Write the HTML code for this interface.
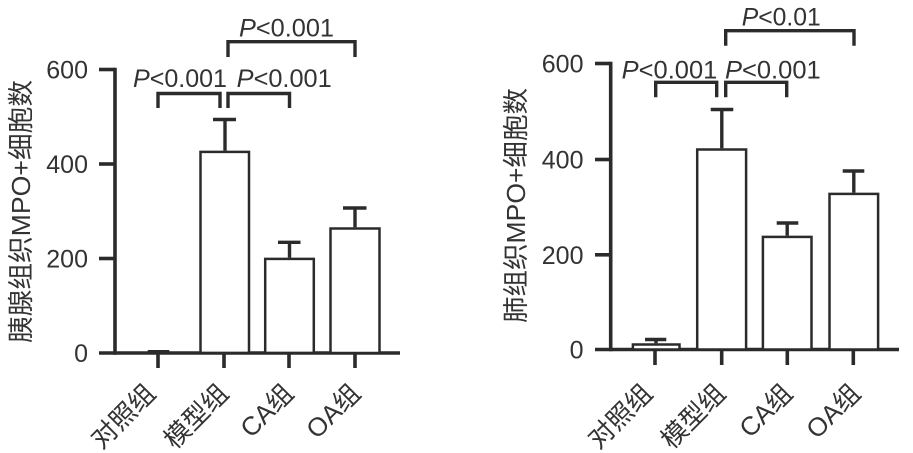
<!DOCTYPE html>
<html><head><meta charset="utf-8">
<style>
html,body{margin:0;padding:0;background:#fff;}
svg{display:block;}
text{font-family:"Liberation Sans","Noto Sans CJK SC",sans-serif;fill:#333;}
</style></head>
<body>
<svg width="913" height="453" viewBox="0 0 913 453" xmlns="http://www.w3.org/2000/svg">
<g stroke="#2b2b2b" fill="none" stroke-linecap="butt">
  <!-- LEFT PANEL -->
  <g stroke-width="3.6">
    <line x1="115" y1="67.7" x2="115" y2="354.8"/>
    <line x1="99" y1="353" x2="400" y2="353"/>
    <line x1="99" y1="69.5" x2="115" y2="69.5"/>
    <line x1="99" y1="164" x2="115" y2="164"/>
    <line x1="99" y1="258.5" x2="115" y2="258.5"/>
    <line x1="158" y1="353" x2="158" y2="368"/>
    <line x1="224" y1="353" x2="224" y2="368"/>
    <line x1="289" y1="353" x2="289" y2="368"/>
    <line x1="355" y1="353" x2="355" y2="368"/>
  </g>
  <g stroke-width="2.5" fill="#fff">
    <rect x="200.5" y="151.9" width="48.5" height="201"/>
    <rect x="265.2" y="258.9" width="48.6" height="94"/>
    <rect x="330.5" y="228.5" width="49" height="124.5"/>
  </g>
  <g stroke-width="3.4">
    <line x1="225" y1="150.7" x2="225" y2="119.5"/>
    <line x1="213" y1="119.5" x2="236" y2="119.5"/>
    <line x1="289.5" y1="257.7" x2="289.5" y2="242.3"/>
    <line x1="278" y1="242.3" x2="300.5" y2="242.3"/>
    <line x1="355" y1="227.3" x2="355" y2="208"/>
    <line x1="343" y1="208" x2="366.5" y2="208"/>
    <line x1="147.7" y1="351.3" x2="169.3" y2="351.3" stroke-width="2.5"/>
    <path d="M158,108 V93.5 H220 V108"/>
    <path d="M228,108 V93.5 H289.5 V108"/>
    <path d="M228,57 V41.7 H355 V57"/>
  </g>

  <!-- RIGHT PANEL -->
  <g stroke-width="3.6">
    <line x1="610.7" y1="61.7" x2="610.7" y2="351.3"/>
    <line x1="595" y1="349.5" x2="899" y2="349.5"/>
    <line x1="595" y1="63.5" x2="610.7" y2="63.5"/>
    <line x1="595" y1="159.5" x2="610.7" y2="159.5"/>
    <line x1="595" y1="254.8" x2="610.7" y2="254.8"/>
    <line x1="655" y1="349.5" x2="655" y2="365"/>
    <line x1="721.7" y1="349.5" x2="721.7" y2="365"/>
    <line x1="787.3" y1="349.5" x2="787.3" y2="365"/>
    <line x1="853.3" y1="349.5" x2="853.3" y2="365"/>
  </g>
  <g stroke-width="2.5" fill="#fff">
    <rect x="632.9" y="344.5" width="46.6" height="5"/>
    <rect x="697.2" y="149.5" width="48.9" height="200"/>
    <rect x="762.9" y="236.9" width="48.6" height="112.6"/>
    <rect x="829.5" y="193.9" width="48.6" height="155.6"/>
  </g>
  <g stroke-width="3.4">
    <line x1="656" y1="343.3" x2="656" y2="339.5"/>
    <line x1="645" y1="339.5" x2="666.3" y2="339.5"/>
    <line x1="721.8" y1="148.3" x2="721.8" y2="109.5"/>
    <line x1="710.7" y1="109.5" x2="733.3" y2="109.5"/>
    <line x1="787.2" y1="235.7" x2="787.2" y2="223"/>
    <line x1="776.7" y1="223" x2="798.3" y2="223"/>
    <line x1="853.8" y1="192.7" x2="853.8" y2="171"/>
    <line x1="842.7" y1="171" x2="864.3" y2="171"/>
    <path d="M655.7,97.3 V82.3 H716.7 V97.3"/>
    <path d="M725.7,97.3 V82.3 H786.7 V97.3"/>
    <path d="M725.7,45.7 V30.7 H854 V45.7"/>
  </g>
</g>

<!-- LEFT TEXT -->
<g font-size="25" text-anchor="end">
  <text x="88" y="78.5">600</text>
  <text x="88" y="173">400</text>
  <text x="88" y="267.5">200</text>
  <text x="88" y="362.2">0</text>
</g>
<g font-size="25">
  <text x="133" y="87" textLength="94" lengthAdjust="spacingAndGlyphs"><tspan font-style="italic">P</tspan>&lt;0.001</text>
  <text x="236.7" y="87" textLength="95" lengthAdjust="spacingAndGlyphs"><tspan font-style="italic">P</tspan>&lt;0.001</text>
  <text x="239" y="36.5" textLength="95" lengthAdjust="spacingAndGlyphs"><tspan font-style="italic">P</tspan>&lt;0.001</text>
</g>
<text font-size="26" transform="translate(30,211.5) rotate(-90)" text-anchor="middle" textLength="263" lengthAdjust="spacingAndGlyphs">胰腺组织MPO+细胞数</text>
<g font-size="26" text-anchor="end">
  <text transform="translate(157,395) rotate(-45)">对照组</text>
  <text transform="translate(230,395) rotate(-45)">模型组</text>
  <text transform="translate(295,395) rotate(-45)">CA组</text>
  <text transform="translate(362,395) rotate(-45)">OA组</text>
</g>

<!-- RIGHT TEXT -->
<g font-size="25" text-anchor="end">
  <text x="583.5" y="72.5">600</text>
  <text x="583.5" y="168.5">400</text>
  <text x="583.5" y="263.8">200</text>
  <text x="583.5" y="358.7">0</text>
</g>
<g font-size="25">
  <text x="621.7" y="78.3" textLength="95.6" lengthAdjust="spacingAndGlyphs"><tspan font-style="italic">P</tspan>&lt;0.001</text>
  <text x="725" y="78.3" textLength="95.7" lengthAdjust="spacingAndGlyphs"><tspan font-style="italic">P</tspan>&lt;0.001</text>
  <text x="741.7" y="25.7" textLength="79" lengthAdjust="spacingAndGlyphs"><tspan font-style="italic">P</tspan>&lt;0.01</text>
</g>
<text font-size="26" transform="translate(525,205.5) rotate(-90)" text-anchor="middle" textLength="235" lengthAdjust="spacingAndGlyphs">肺组织MPO+细胞数</text>
<g font-size="26" text-anchor="end">
  <text transform="translate(654,395) rotate(-45)">对照组</text>
  <text transform="translate(727,395) rotate(-45)">模型组</text>
  <text transform="translate(794,395) rotate(-45)">CA组</text>
  <text transform="translate(862,395) rotate(-45)">OA组</text>
</g>
</svg>
</body></html>
